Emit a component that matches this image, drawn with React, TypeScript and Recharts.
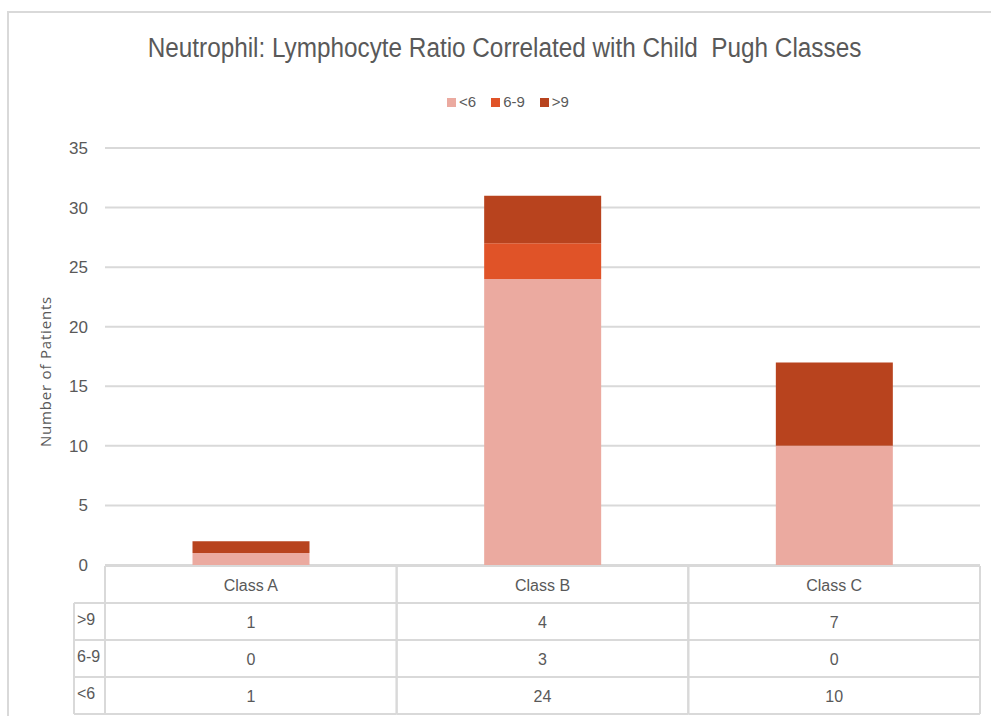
import React from 'react';
import { BarChart, Bar, XAxis, YAxis, CartesianGrid } from 'recharts';

const categories = ['Class A', 'Class B', 'Class C'];
const lowValues = [1, 24, 10];
const midValues = [0, 3, 0];
const highValues = [1, 4, 7];
const yTicks = [0, 5, 10, 15, 20, 25, 30, 35];

const seriesNames = ['<6', '6-9', '>9'];
const seriesColors = ['#EBAAA0', '#E05328', '#B8431E'];
const seriesValues = [lowValues, midValues, highValues];

const data = categories.map((name, i) => ({
  name,
  low: lowValues[i],
  mid: midValues[i],
  high: highValues[i],
}));
const seriesKeys = ['low', 'mid', 'high'];

const W = 991;
const H = 716;
const MARGIN = { top: 148, right: 11, bottom: 0, left: 30 };
const Y_AXIS_W = 75;
const X_AXIS_H = 151;
const PLOT_LEFT = MARGIN.left + Y_AXIS_W;
const PLOT_RIGHT = W - MARGIN.right;
const BAND = (PLOT_RIGHT - PLOT_LEFT) / categories.length;
const ROW_H = 37;
const LABEL_COL_W = 31;

const FONT = "'Liberation Sans', Arial, sans-serif";
const TEXT = '#595959';
const LINE = '#d9d9d9';

// table rows top-to-bottom: >9, 6-9, <6
const tableRows = [2, 1, 0];

const TableTick = (props: any) => {
  const { x, y, payload } = props;
  const i = payload.index;
  const left = x - BAND / 2;
  const right = x + BAND / 2;
  const top = y + 1;
  const bottom = top + ROW_H * 4;
  return (
    <g>
      <line x1={left} x2={right} y1={top} y2={top} stroke={LINE} strokeWidth={2} />
      <line x1={left} x2={left} y1={top} y2={bottom} stroke={LINE} strokeWidth={2} />
      <line x1={right} x2={right} y1={top} y2={bottom} stroke={LINE} strokeWidth={2} />
      <text x={x} y={top + ROW_H / 2 + 6} textAnchor="middle" fill={TEXT} fontSize={16} fontFamily={FONT}>
        {payload.value}
      </text>
      {tableRows.map((s, r) => {
        const rt = top + ROW_H * (r + 1);
        return (
          <g key={r}>
            <line x1={left} x2={right} y1={rt} y2={rt} stroke={LINE} strokeWidth={2} />
            <text x={x} y={rt + ROW_H / 2 + 6} textAnchor="middle" fill={TEXT} fontSize={16} fontFamily={FONT}>
              {seriesValues[s][i]}
            </text>
          </g>
        );
      })}
      <line x1={left} x2={right} y1={bottom} y2={bottom} stroke={LINE} strokeWidth={2} />
      {i === 0 && (
        <g>
          <line x1={left - LABEL_COL_W} x2={left} y1={top + ROW_H} y2={top + ROW_H} stroke={LINE} strokeWidth={2} />
          <line x1={left - LABEL_COL_W} x2={left - LABEL_COL_W} y1={top + ROW_H} y2={bottom} stroke={LINE} strokeWidth={2} />
          <line x1={left - LABEL_COL_W} x2={left} y1={bottom} y2={bottom} stroke={LINE} strokeWidth={2} />
          {tableRows.map((s, r) => {
            const rt = top + ROW_H * (r + 1);
            return (
              <g key={r}>
                <line x1={left - LABEL_COL_W} x2={left} y1={rt} y2={rt} stroke={LINE} strokeWidth={2} />
                <text x={left - LABEL_COL_W + 3} y={rt + ROW_H / 2 + 3} fill={TEXT} fontSize={16} fontFamily={FONT}>
                  {seriesNames[s]}
                </text>
              </g>
            );
          })}
        </g>
      )}
    </g>
  );
};

const AxisTitle = (props: any) => {
  const vb = props.viewBox || {};
  const cx = vb.x + 15;
  const cy = vb.y + vb.height / 2 + 15;
  return (
    <text
      x={cx}
      y={cy}
      transform={`rotate(-90, ${cx}, ${cy})`}
      textAnchor="middle"
      dominantBaseline="central"
      fill={TEXT}
      fontSize={15}
      letterSpacing={0.8}
      fontFamily="'Open Sans', sans-serif"
    >
      Number of Patients
    </text>
  );
};

export default function App() {
  return (
    <div style={{ position: 'absolute', left: 0, top: 0, width: W, height: H, background: '#fff' }}>
      <div
        style={{
          position: 'absolute',
          left: 7,
          top: 11,
          right: 0,
          bottom: 0,
          borderTop: `2px solid ${LINE}`,
          borderLeft: `2px solid ${LINE}`,
        }}
      />
      <div
        style={{
          position: 'absolute',
          left: 0,
          width: W + 18,
          top: 34,
          textAlign: 'center',
          fontFamily: FONT,
          fontSize: 27,
          lineHeight: '28px',
          color: TEXT,
          transform: 'scaleX(0.9)',
          transformOrigin: '50% 50%',
        }}
      >
        Neutrophil: Lymphocyte Ratio Correlated with Child&nbsp; Pugh Classes
      </div>
      <div
        style={{
          position: 'absolute',
          left: 0,
          width: W + 25,
          top: 93,
          display: 'flex',
          justifyContent: 'center',
          fontFamily: FONT,
          fontSize: 15,
          color: TEXT,
          lineHeight: '18px',
        }}
      >
        {seriesNames.map((n, i) => (
          <span key={n} style={{ display: 'flex', alignItems: 'center', marginRight: i < 2 ? 15 : 0 }}>
            <span style={{ width: 9, height: 9, background: seriesColors[i], marginRight: 3, display: 'inline-block' }} />
            {n}
          </span>
        ))}
      </div>
      <div style={{ position: 'absolute', left: 0, top: 0 }}>
        <BarChart width={W} height={H} data={data} margin={MARGIN} barCategoryGap="30%">
          <CartesianGrid horizontal vertical={false} stroke={LINE} strokeWidth={2} />
          <XAxis
            dataKey="name"
            height={X_AXIS_H}
            axisLine={false}
            tickLine={false}
            tickSize={0}
            tickMargin={0}
            interval={0}
            tick={<TableTick />}
          />
          <YAxis
            width={Y_AXIS_W}
            domain={[0, 35]}
            ticks={yTicks}
            axisLine={false}
            tickLine={false}
            tickSize={0}
            tickMargin={17}
            tick={{ fill: TEXT, fontSize: 17, fontFamily: FONT }}
            label={<AxisTitle />}
          />
          {seriesKeys.map((k, i) => (
            <Bar key={k} dataKey={k} stackId="a" fill={seriesColors[i]} isAnimationActive={false} />
          ))}
        </BarChart>
      </div>
    </div>
  );
}
